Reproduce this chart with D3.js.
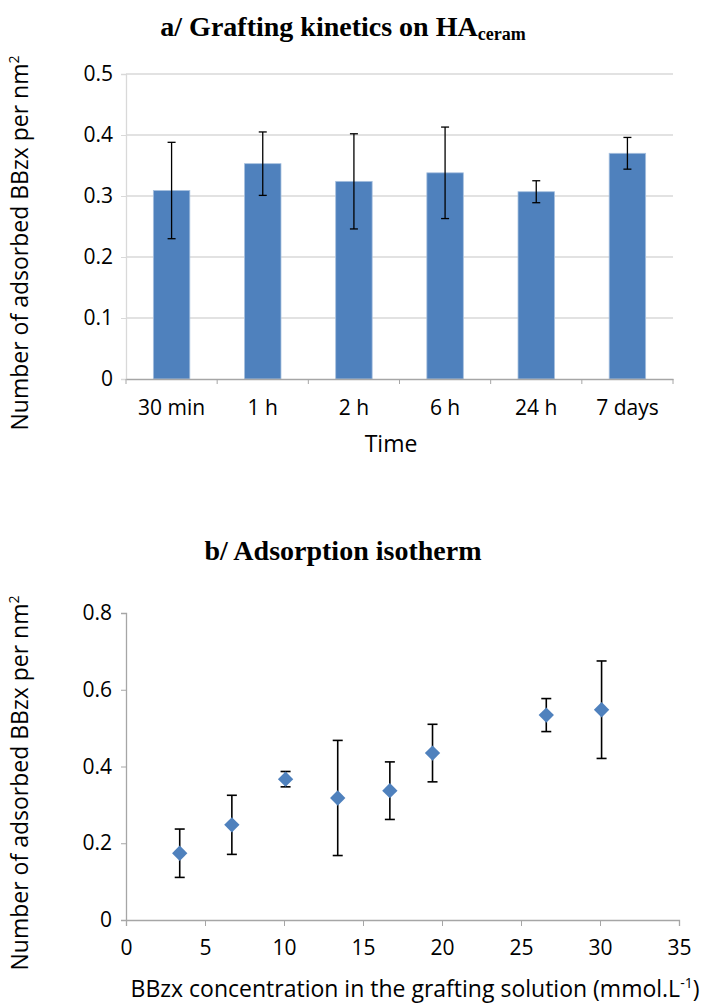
<!DOCTYPE html>
<html>
<head>
<meta charset="utf-8">
<script src="https://cdn.jsdelivr.net/npm/d3@7"></script>
<style>
  body { margin: 0; background: #fff; }
  text { font-family: "Open Sans", sans-serif; fill: #000; }
  .title { font-family: "Liberation Serif", "Times New Roman", serif; font-weight: bold; }
</style>
</head>
<body>
<svg id="chart" width="708" height="1006"></svg>
<script>
// panel a - grafting kinetics
const times = ['30 min', '1 h', '2 h', '6 h', '24 h', '7 days'];
const kineticValues = [0.309, 0.353, 0.324, 0.338, 0.307, 0.370];
const kineticErrors = [0.079, 0.052, 0.078, 0.075, 0.018, 0.026];
const kineticTicks = [0, 0.1, 0.2, 0.3, 0.4, 0.5];

// panel b - adsorption isotherm
const concentrations = [3.4, 6.7, 10.1, 13.4, 16.7, 19.4, 26.6, 30.1];
const isothermValues = [0.174, 0.248, 0.367, 0.318, 0.337, 0.435, 0.534, 0.548];
const isothermErrors = [0.063, 0.077, 0.020, 0.150, 0.075, 0.075, 0.043, 0.127];
const isothermYTicks = [0, 0.2, 0.4, 0.6, 0.8];
const isothermXTicks = [0, 5, 10, 15, 20, 25, 30, 35];

const blue = '#4F81BD';
const axisGrey = '#A6A6A6';
const gridGrey = '#D9D9D9';
const tickFont = '21px';
const labelFont = '23px';
const svg = d3.select('#chart');

function yLabel(cx, cy) {
    const yl = svg.append('text')
        .attr('transform', `translate(${cx},${cy}) rotate(-90)`)
        .attr('text-anchor', 'middle').style('font-size', labelFont);
    yl.append('tspan').text('Number of adsorbed BBzx per nm');
    yl.append('tspan').text('2').style('font-size', '14px').attr('dy', -9);
}

function drawKinetics() {
    const left = 126, right = 673, top = 74, bottom = 379;
    const g = svg.append('g');

    const x = d3.scaleBand().domain(times).range([left, right]);
    const y = d3.scaleLinear().domain([0, 0.5]).range([bottom, top]);

    // gridlines
    g.selectAll('.grid')
        .data(kineticTicks.slice(1))
        .enter().append('line')
        .attr('x1', left).attr('x2', right)
        .attr('y1', d => y(d)).attr('y2', d => y(d))
        .style('stroke', gridGrey).style('stroke-width', 1.3);

    // y axis
    const yAxis = g.append('g')
        .attr('transform', `translate(${left},0)`)
        .call(d3.axisLeft(y).tickValues(kineticTicks).tickSize(5).tickPadding(8)
            .tickFormat(d => d === 0 ? '0' : d3.format('.1f')(d)));
    yAxis.select('.domain').style('stroke', gridGrey).style('stroke-width', 1.3);
    yAxis.selectAll('.tick line').style('stroke', gridGrey);
    yAxis.selectAll('text').style('font-size', tickFont).style('fill', '#000');

    // bars
    const barW = x.bandwidth() / 2.5;
    g.selectAll('.bar')
        .data(times)
        .enter().append('rect')
        .attr('x', d => x(d) + (x.bandwidth() - barW) / 2)
        .attr('width', barW)
        .attr('y', (d, i) => y(kineticValues[i]))
        .attr('height', (d, i) => y(0) - y(kineticValues[i]))
        .style('fill', blue)
        .style('stroke', '#A7C0DE').style('stroke-width', 0.8);

    // x axis
    const xAxis = g.append('g')
        .attr('transform', `translate(0,${bottom})`)
        .call(d3.axisBottom(x).tickSize(0).tickPadding(21));
    xAxis.select('.domain').style('stroke', axisGrey).style('stroke-width', 1.3);
    xAxis.selectAll('text').style('font-size', tickFont).style('fill', '#000');
    g.selectAll('.sep')
        .data(times.concat(['end']))
        .enter().append('line')
        .attr('x1', (d, i) => left + i * x.step()).attr('x2', (d, i) => left + i * x.step())
        .attr('y1', bottom).attr('y2', bottom + 5)
        .style('stroke', axisGrey);

    // error bars
    const err = g.selectAll('.err').data(times).enter().append('g');
    const cx = d => x(d) + x.bandwidth() / 2;
    err.append('line')
        .attr('x1', cx).attr('x2', cx)
        .attr('y1', (d, i) => y(kineticValues[i] + kineticErrors[i]))
        .attr('y2', (d, i) => y(kineticValues[i] - kineticErrors[i]));
    [1, -1].forEach(s => {
        err.append('line')
            .attr('x1', d => cx(d) - 4).attr('x2', d => cx(d) + 4)
            .attr('y1', (d, i) => y(kineticValues[i] + s * kineticErrors[i]))
            .attr('y2', (d, i) => y(kineticValues[i] + s * kineticErrors[i]));
    });
    err.selectAll('line').style('stroke', '#000').style('stroke-width', 1.3);

    // labels
    const title = svg.append('text').attr('class', 'title')
        .attr('x', 343).attr('y', 36).attr('text-anchor', 'middle')
        .style('font-size', '28px');
    title.append('tspan').text('a/ Grafting kinetics on HA');
    title.append('tspan').text('ceram').style('font-size', '18px').attr('dy', 4);

    svg.append('text')
        .attr('x', 391).attr('y', 452).attr('text-anchor', 'middle')
        .style('font-size', labelFont).text('Time');

    yLabel(28, 243);
}

function drawIsotherm() {
    const left = 126, right = 679, top = 613, bottom = 920;
    const g = svg.append('g');

    const x = d3.scaleLinear().domain([0, 35]).range([left, right]);
    const y = d3.scaleLinear().domain([0, 0.8]).range([bottom, top]);

    const yAxis = g.append('g')
        .attr('transform', `translate(${left},0)`)
        .call(d3.axisLeft(y).tickValues(isothermYTicks).tickSize(5).tickPadding(9)
            .tickFormat(d => d === 0 ? '0' : d3.format('.1f')(d)));
    yAxis.select('.domain').style('stroke', axisGrey).style('stroke-width', 1.3);
    yAxis.selectAll('.tick line').style('stroke', axisGrey);
    yAxis.selectAll('text').style('font-size', tickFont).style('fill', '#000');

    const xAxis = g.append('g')
        .attr('transform', `translate(0,${bottom})`)
        .call(d3.axisBottom(x).tickValues(isothermXTicks).tickSize(6).tickPadding(14));
    xAxis.select('.domain').style('stroke', axisGrey).style('stroke-width', 1.3);
    xAxis.selectAll('.tick line').style('stroke', axisGrey);
    xAxis.selectAll('text').style('font-size', tickFont).style('fill', '#000');

    // error bars
    const err = g.selectAll('.err').data(concentrations).enter().append('g');
    err.append('line')
        .attr('x1', d => x(d)).attr('x2', d => x(d))
        .attr('y1', (d, i) => y(isothermValues[i] + isothermErrors[i]))
        .attr('y2', (d, i) => y(isothermValues[i] - isothermErrors[i]));
    [1, -1].forEach(s => {
        err.append('line')
            .attr('x1', d => x(d) - 5).attr('x2', d => x(d) + 5)
            .attr('y1', (d, i) => y(isothermValues[i] + s * isothermErrors[i]))
            .attr('y2', (d, i) => y(isothermValues[i] + s * isothermErrors[i]));
    });
    err.selectAll('line').style('stroke', '#000').style('stroke-width', 1.6);

    // diamond markers
    const diamond = d3.symbol().type(d3.symbolDiamond2).size(150);
    g.selectAll('.pt')
        .data(concentrations)
        .enter().append('path')
        .attr('d', diamond)
        .attr('transform', (d, i) => `translate(${x(d)},${y(isothermValues[i])})`)
        .style('fill', blue);

    svg.append('text').attr('class', 'title')
        .attr('x', 343).attr('y', 560).attr('text-anchor', 'middle')
        .style('font-size', '28px').text('b/ Adsorption isotherm');

    const xl = svg.append('text')
        .attr('x', 415).attr('y', 997).attr('text-anchor', 'middle')
        .style('font-size', labelFont);
    xl.append('tspan').text('BBzx concentration in the grafting solution (mmol.L');
    xl.append('tspan').text('-1').style('font-size', '14px').attr('dy', -9);
    xl.append('tspan').text(')').attr('dy', 9);

    yLabel(28, 783);
}

drawKinetics();
drawIsotherm();
</script>
</body>
</html>
